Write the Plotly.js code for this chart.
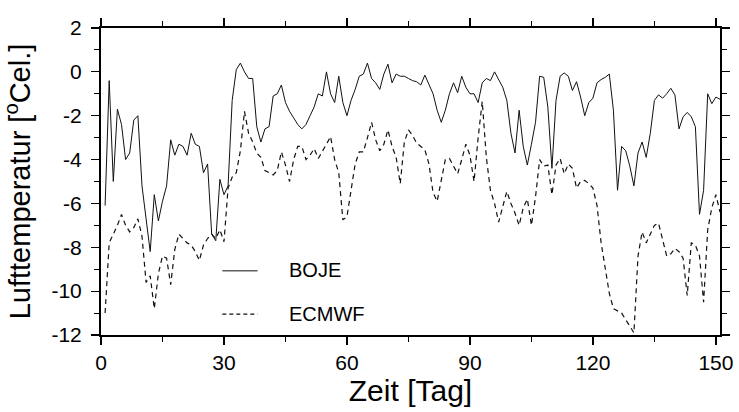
<!DOCTYPE html>
<html>
<head>
<meta charset="utf-8">
<script src="https://cdn.plot.ly/plotly-3.0.1.min.js"></script>
<style>html,body{margin:0;padding:0;background:#fff;}#chart{width:739px;height:412px;}</style>
</head>
<body>
<div id="chart"></div>
<script>
const firstDay = 1;
const boje = [
-6.1,-0.4,-5.0,-1.7,-2.4,-4.0,-3.7,-2.2,-2.0,-5.2,
-6.7,-8.2,-5.6,-6.8,-5.9,-5.2,-3.1,-3.8,-3.3,-3.4,
-3.8,-2.8,-3.3,-3.4,-4.6,-4.2,-7.4,-7.7,-4.9,-5.6,
-5.2,-1.3,0.1,0.4,0.0,-0.3,-0.3,-2.5,-3.2,-2.6,
-2.5,-1.1,-1.0,-0.6,-1.4,-1.8,-2.1,-2.4,-2.6,-2.4,
-2.0,-1.6,-1.0,-1.1,0.0,-1.0,-1.4,-0.2,-1.4,-2.0,
-1.3,-0.8,-0.2,-0.1,0.4,-0.3,-0.5,-0.8,-0.1,0.35,
-0.5,-0.1,-0.2,-0.2,-0.3,-0.4,-0.45,-0.6,-0.15,-0.6,
-1.0,-1.75,-2.3,-1.75,-1.0,-0.5,-0.95,-0.2,-0.7,-1.0,
-1.0,-1.4,-0.5,-0.3,-0.4,0.0,-0.35,-0.7,-1.3,-2.8,
-3.7,-1.75,-3.4,-4.25,-3.3,-2.3,-0.2,-0.25,-1.6,-4.4,
-1.3,-0.2,-0.05,-0.2,-0.85,-0.45,-1.15,-2.0,-1.4,-1.2,
-0.5,-0.35,-0.25,-0.1,-1.75,-5.4,-3.4,-3.6,-4.3,-5.2,
-3.7,-3.2,-3.9,-2.8,-1.3,-1.05,-1.2,-1.0,-0.75,-1.05,
-2.6,-2.05,-1.85,-2.05,-2.5,-6.5,-5.4,-1.0,-1.45,-1.15,
-1.25
];
const ecmwf = [
-11.0,-7.8,-7.4,-7.0,-6.5,-7.0,-7.3,-7.1,-6.7,-7.5,
-9.6,-9.3,-10.8,-9.2,-8.4,-8.5,-9.7,-8.1,-7.4,-7.6,
-7.8,-7.9,-8.2,-8.6,-7.9,-7.6,-7.4,-7.6,-7.2,-7.75,
-5.3,-4.8,-4.6,-3.6,-1.8,-2.8,-3.2,-3.7,-3.9,-4.5,
-4.6,-4.7,-4.5,-3.65,-4.25,-5.0,-4.0,-3.4,-3.4,-4.0,
-3.8,-3.5,-3.95,-3.65,-3.3,-2.95,-4.0,-4.6,-6.75,-6.6,
-5.5,-4.2,-3.65,-3.65,-3.0,-2.3,-3.1,-3.6,-3.3,-2.65,
-3.4,-3.9,-5.1,-3.2,-2.65,-2.9,-3.25,-3.4,-3.55,-4.2,
-5.5,-5.9,-5.0,-4.0,-3.95,-4.3,-4.65,-4.0,-3.3,-3.8,
-5.0,-3.0,-1.35,-3.9,-5.4,-6.0,-6.85,-6.15,-5.45,-6.0,
-6.45,-7.0,-6.2,-5.8,-7.0,-5.7,-4.0,-4.3,-4.25,-5.6,
-4.25,-3.95,-4.65,-4.2,-4.4,-5.3,-5.0,-4.95,-5.1,-5.3,
-6.1,-7.8,-9.0,-10.1,-10.8,-10.9,-11.0,-11.3,-11.6,-11.9,
-8.4,-7.3,-7.8,-7.4,-7.0,-6.9,-7.6,-8.4,-8.3,-8.05,
-8.2,-8.5,-10.2,-7.8,-7.9,-8.4,-10.5,-7.2,-6.2,-5.6,
-6.4
];
const seriesNames = ["BOJE", "ECMWF"];
const xTicks = [0, 30, 60, 90, 120, 150];
const yTicks = [2, 0, -2, -4, -6, -8, -10, -12];

const days = boje.map((_, i) => firstDay + i);
const FONT = "Liberation Sans, Arial, Helvetica, sans-serif";

const traces = [
  {x: days, y: boje, name: seriesNames[0], type: "scatter", mode: "lines",
   line: {color: "#111", width: 1}},
  {x: days, y: ecmwf, name: seriesNames[1], type: "scatter", mode: "lines",
   line: {color: "#111", width: 1.2, dash: "5px,4px"}}
];

const axisCommon = {
  showgrid: false, zeroline: false, showline: true, linecolor: "#000", linewidth: 2,
  mirror: "ticks", ticks: "outside", ticklen: 8, tickwidth: 1.2, tickcolor: "#000",
  tickfont: {family: FONT, size: 21, color: "#000"}
};

const layout = {
  width: 739, height: 412,
  margin: {l: 101, r: 19, t: 28, b: 77},
  paper_bgcolor: "#fff", plot_bgcolor: "#fff",
  showlegend: false,
  font: {family: FONT, color: "#000"},
  xaxis: Object.assign({}, axisCommon, {
    range: [0, 151], tickvals: xTicks, ticktext: xTicks.map(String),
    minor: {dtick: 15, tick0: 0, ticks: "outside", ticklen: 5, tickcolor: "#000", tickwidth: 1},
    title: {text: "Zeit [Tag]", font: {family: FONT, size: 30, color: "#000"}, standoff: 3}
  }),
  yaxis: Object.assign({}, axisCommon, {
    range: [-12, 2], tickvals: yTicks, ticktext: yTicks.map(String),
    ticklabelstandoff: 5,
    minor: {dtick: 1, tick0: 0, ticks: "outside", ticklen: 5, tickcolor: "#000", tickwidth: 1},
    title: {text: "Lufttemperatur [<sup>o</sup>Cel.]", font: {family: FONT, size: 29, color: "#000"}, standoff: 12}
  }),
  shapes: [
    {type: "line", xref: "paper", yref: "paper", x0: 0.196, x1: 0.253, y0: 0.209, y1: 0.209,
     line: {color: "#111", width: 1}},
    {type: "line", xref: "paper", yref: "paper", x0: 0.196, x1: 0.253, y0: 0.068, y1: 0.068,
     line: {color: "#111", width: 1.2, dash: "4px,3px"}}
  ],
  annotations: [
    {xref: "paper", yref: "paper", x: 0.2997, y: 0.212, xanchor: "left", yanchor: "middle",
     text: seriesNames[0], showarrow: false, font: {family: FONT, size: 20, color: "#000"}},
    {xref: "paper", yref: "paper", x: 0.2997, y: 0.07, xanchor: "left", yanchor: "middle",
     text: seriesNames[1], showarrow: false, font: {family: FONT, size: 20, color: "#000"}}
  ]
};

Plotly.newPlot("chart", traces, layout, {staticPlot: true, displayModeBar: false});
</script>
</body>
</html>
